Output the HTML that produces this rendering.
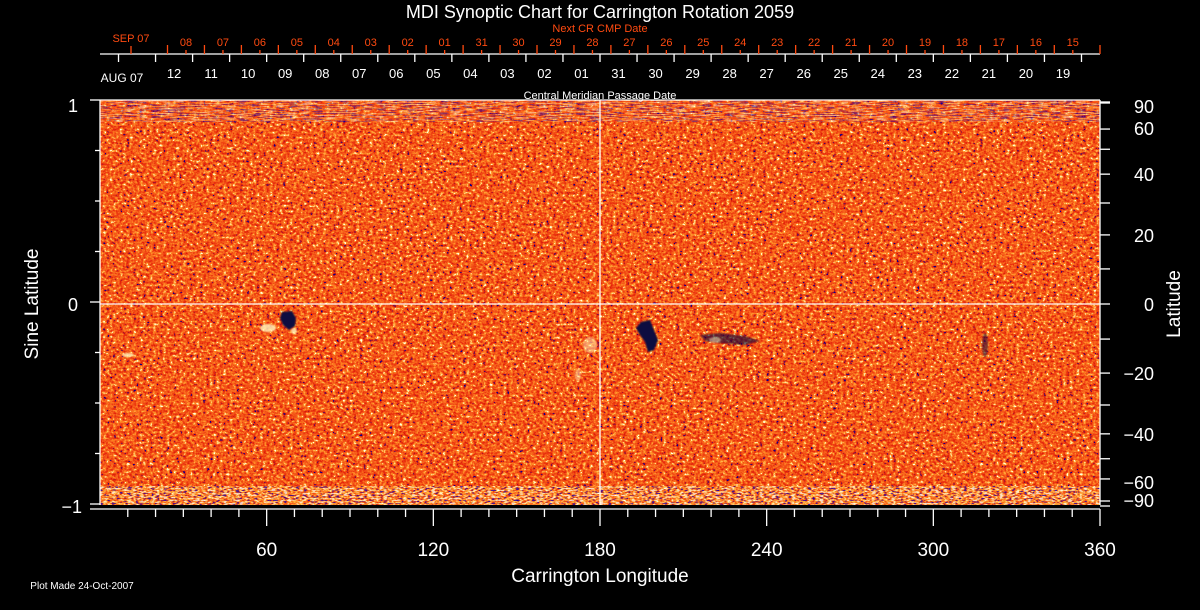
<!DOCTYPE html>
<html><head><meta charset="utf-8"><style>
html,body{margin:0;padding:0;background:#000;}
svg{display:block}
text{font-family:"Liberation Sans",sans-serif;}
</style></head><body>
<svg id="s" width="1200" height="610" xmlns="http://www.w3.org/2000/svg">
<defs>
<filter id="n" x="0" y="0" width="100%" height="100%" color-interpolation-filters="sRGB">
<feTurbulence type="fractalNoise" baseFrequency="0.3 0.38" numOctaves="3" seed="3"/>
<feColorMatrix type="matrix" values="1.6 0 0 0 -0.3  1.6 0 0 0 -0.3  1.6 0 0 0 -0.3  0 0 0 0 1"/>
<feComponentTransfer>
<feFuncR type="discrete" tableValues="0.05 0.85 0.9 0.92 0.94 0.95 0.97 0.98 1 1 1 1"/>
<feFuncG type="discrete" tableValues="0 0.1 0.16 0.2 0.26 0.32 0.38 0.45 0.52 0.62 0.8 1"/>
<feFuncB type="discrete" tableValues="0.55 0.04 0.05 0.06 0.07 0.09 0.11 0.12 0.13 0.2 0.4 0.9"/>
</feComponentTransfer>
</filter>
<filter id="n2" x="0" y="0" width="100%" height="100%" color-interpolation-filters="sRGB">
<feTurbulence type="fractalNoise" baseFrequency="0.25 0.6" numOctaves="2" seed="8"/>
<feColorMatrix type="matrix" values="2.4 0 0 0 -0.7  2.4 0 0 0 -0.7  2.4 0 0 0 -0.7  0 0 0 0 1"/>
<feComponentTransfer>
<feFuncR type="discrete" tableValues="0.1 0.9 1 1 1 1 1 1"/>
<feFuncG type="discrete" tableValues="0 0.2 0.35 0.5 0.7 0.85 1 1"/>
<feFuncB type="discrete" tableValues="0.7 0.05 0.1 0.15 0.2 0.4 0.8 1"/>
</feComponentTransfer>
</filter>
<filter id="n3" x="0" y="0" width="100%" height="100%" color-interpolation-filters="sRGB">
<feTurbulence type="fractalNoise" baseFrequency="0.08 0.9" numOctaves="2" seed="5"/>
<feColorMatrix type="matrix" values="3 0 0 0 -1  3 0 0 0 -1  3 0 0 0 -1  0 0 0 0 1"/>
<feComponentTransfer>
<feFuncR type="discrete" tableValues="0.1 0.95 1 1 1 1"/>
<feFuncG type="discrete" tableValues="0 0.2 0.3 0.45 0.8 1"/>
<feFuncB type="discrete" tableValues="0.7 0.05 0.1 0.1 0.3 0.9"/>
</feComponentTransfer>
</filter>
<filter id="bl"><feGaussianBlur stdDeviation="0.7"/></filter>
</defs>
<rect x="100" y="100" width="1000" height="405" fill="#e85a20"/>
<rect x="100" y="100" width="1000" height="405" filter="url(#n)"/>
<rect x="100" y="100" width="1000" height="22" filter="url(#n3)" opacity="0.45"/>
<rect x="100" y="486" width="1000" height="19" filter="url(#n2)" opacity="0.75"/>
<g fill="#0a0a40" filter="url(#bl)">
<path d="M282 312 L292 311 L296 318 L295 326 L289 330 L283 325 L280 318 Z"/>
<path d="M641 322 L650 320 L654 330 L658 340 L654 350 L648 352 L645 342 L640 335 L636 328 Z"/>
<path d="M700 335 L720 333 L745 336 L760 341 L745 345 L720 343 L705 341 Z" opacity="0.6"/>
<ellipse cx="985" cy="345" rx="3" ry="12" opacity="0.5"/>
</g>
<g fill="#fff5c0" filter="url(#bl)" opacity="0.8">
<ellipse cx="268" cy="328" rx="8" ry="4"/>
<ellipse cx="294" cy="331" rx="3" ry="3"/>
<ellipse cx="128" cy="355" rx="6" ry="2"/>
<ellipse cx="590" cy="345" rx="7" ry="8" opacity="0.6"/>
<ellipse cx="578" cy="375" rx="3" ry="6" opacity="0.6"/>
<ellipse cx="715" cy="340" rx="6" ry="3" opacity="0.6"/>
</g>
<g stroke="#fff" stroke-width="1.3" fill="none">
<line x1="100" y1="100" x2="1100" y2="100"/>
<line x1="100" y1="100" x2="100" y2="505"/>
<line x1="1100" y1="100" x2="1100" y2="505"/>
<line x1="100" y1="304" x2="1100" y2="304"/>
<line x1="600" y1="100" x2="600" y2="505"/>
<line x1="90" y1="509" x2="1100" y2="509"/>
<line x1="100" y1="54" x2="1100" y2="54"/>
</g>
<g fill="#fff" font-size="18" text-anchor="middle">
<text x="600" y="18">MDI Synoptic Chart for Carrington Rotation 2059</text>
<text x="600" y="582" font-size="19">Carrington Longitude</text>
<text transform="translate(38,304) rotate(-90)" font-size="19">Sine Latitude</text>
<text transform="translate(1180,304) rotate(-90)" font-size="19">Latitude</text>
<text x="600" y="99" font-size="11">Central Meridian Passage Date</text>
<text x="122" y="82" font-size="12">AUG 07</text>
<text x="82" y="589" font-size="10" text-anchor="middle">Plot Made 24-Oct-2007</text>
<text x="78" y="112" font-size="18" text-anchor="end">1</text>
<text x="78" y="311" font-size="18" text-anchor="end">0</text>
<text x="82" y="513" font-size="18" text-anchor="end">−1</text>
</g>
<g fill="#ff4a10" font-size="11" text-anchor="middle">
<text x="600" y="32">Next CR CMP Date</text>
<text x="131" y="42">SEP 07</text>
</g>
<g id="dyn"></g>
</svg>
<script>
var g=document.getElementById('dyn'),h='';
function L(x1,y1,x2,y2,c){h+='<line x1="'+x1+'" y1="'+y1+'" x2="'+x2+'" y2="'+y2+'" stroke="'+c+'" stroke-width="1.3"/>';}
function T(x,y,s,c,fs,a){h+='<text x="'+x+'" y="'+y+'" fill="'+c+'" font-size="'+fs+'" text-anchor="'+(a||'middle')+'">'+s+'</text>';}
var d=1000/27;
for(var k=-13;k<=13;k++){var x=600+k*d;if(x<100||x>1100)continue;L(x,54,x,62,'#fff');}
var left=['01','02','03','04','05','06','07','08','09','10','11','12'];
for(var i=0;i<12;i++)T(600-d*(i+0.5),78,left[i],'#fff',13);
var right=['31','30','29','28','27','26','25','24','23','22','21','20','19'];
for(var i=0;i<13;i++)T(600+d*(i+0.5),78,right[i],'#fff',13);
var red=['08','07','06','05','04','03','02','01','31','30','29','28','27','26','25','24','23','22','21','20','19','18','17','16','15'];
L(131,46,131,54,'#ff4a10');
for(var i=0;i<red.length;i++){var x=186+36.95*i;L(x,50,x,54,'#ff4a10');T(x,46,red[i],'#ff4a10',11);L(x-18.5,45,x-18.5,54,'#ff4a10');}
L(1100,45,1100,54,'#ff4a10');
for(var k=1;k<=36;k++){var x=100+k*1000/36;L(x,509,x,k%6==0?526:517,'#fff');if(k%6==0)T(x,556,k*10,'#fff',19);}
for(var k=0;k<=8;k++){var y=100+k*404/8;L(k%4==0?90:95,y,100,y,'#fff');}
var lats=[90,60,50,40,30,20,10,0,-10,-20,-30,-40,-50,-60,-90];
for(var i=0;i<lats.length;i++){var y=304-202*Math.sin(lats[i]*Math.PI/180);L(1100,y,1110,y,'#fff');}
L(1100,103,1110,103,'#fff');L(1100,501,1110,501,'#fff');
var lab=[[90,'90'],[60,'60'],[40,'40'],[20,'20'],[0,'0'],[-20,'−20'],[-40,'−40'],[-60,'−60'],[-90,'−90']];
for(var i=0;i<lab.length;i++){var y=304-202*Math.sin(lab[i][0]*Math.PI/180);if(lab[i][0]==90)y=106;if(lab[i][0]==-90)y=500;if(lab[i][0]==60)y=128;if(lab[i][0]==-60)y=482;T(1154,y+7,lab[i][1],'#fff',18,'end');}
g.innerHTML=h;
</script>
</body></html>
